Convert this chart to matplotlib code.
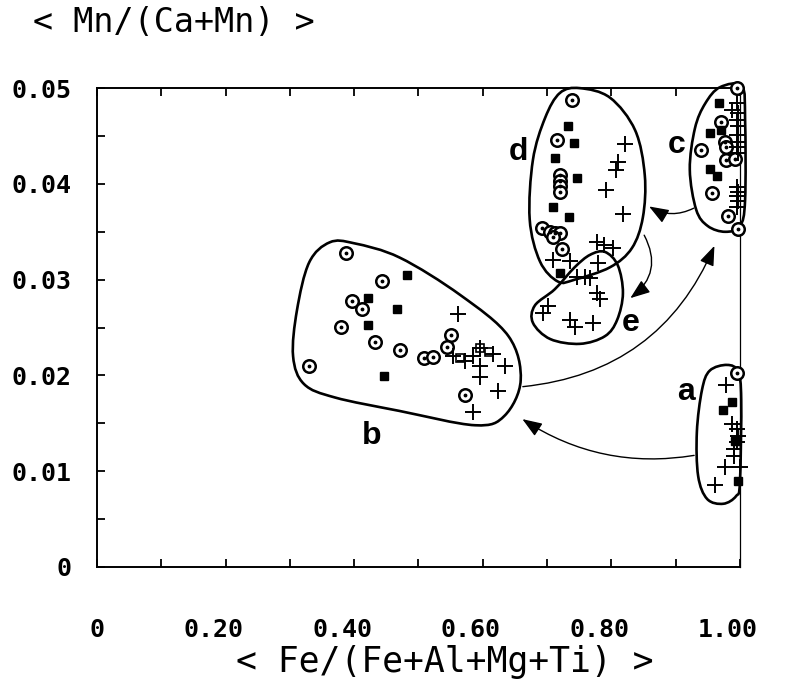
import numpy as np
import matplotlib.pyplot as plt
from matplotlib.path import Path
from matplotlib.patches import PathPatch, FancyArrowPatch
from matplotlib.transforms import ScaledTranslation

# ---- data ----
circ_x = [0.388, 0.443, 0.396, 0.412, 0.379, 0.432, 0.471, 0.329, 0.508, 0.523, 0.550, 0.545, 0.572,
          0.739, 0.716, 0.720, 0.720, 0.720, 0.720, 0.692, 0.705, 0.712, 0.720, 0.710, 0.723,
          0.995, 0.971, 0.977, 0.979, 0.940, 0.979, 0.992, 0.956, 0.982, 0.997,
          0.995]
circ_y = [0.0328, 0.0299, 0.0278, 0.0269, 0.0251, 0.0235, 0.0227, 0.0210, 0.0218, 0.0219, 0.0242, 0.0230, 0.0180,
          0.0488, 0.0446, 0.0409, 0.0403, 0.0398, 0.0392, 0.0354, 0.0350, 0.0349, 0.0349, 0.0345, 0.0332,
          0.0500, 0.0465, 0.0444, 0.0439, 0.0435, 0.0425, 0.0426, 0.0390, 0.0366, 0.0353,
          0.0203]

sq_x = [0.482, 0.422, 0.466, 0.422, 0.446,
        0.733, 0.742, 0.712, 0.746, 0.710, 0.734, 0.720,
        0.968, 0.953, 0.971, 0.953, 0.964,
        0.987, 0.974, 0.997, 0.992]
sq_y = [0.0305, 0.0281, 0.0269, 0.0253, 0.0199,
        0.0460, 0.0443, 0.0427, 0.0406, 0.0376, 0.0365, 0.0307,
        0.0485, 0.0453, 0.0456, 0.0416, 0.0408,
        0.0172, 0.0164, 0.0090, 0.0132]

osq_x = [0.565, 0.595, 0.609]
osq_y = [0.0218, 0.0229, 0.0224]

plus_x = [0.562, 0.596, 0.585, 0.616, 0.596, 0.634, 0.596, 0.624, 0.585, 0.554, 0.572,
          0.821, 0.811, 0.808, 0.792, 0.818, 0.777, 0.788, 0.803, 0.710, 0.736, 0.780,
          0.759, 0.767, 0.746, 0.777, 0.782, 0.702, 0.694, 0.736, 0.743, 0.772,
          0.995, 0.997, 0.995, 0.997, 0.995, 0.997, 0.995, 0.997, 0.987,
          0.995, 0.997, 0.995, 0.997, 0.995,
          0.979, 0.987, 0.995, 0.997, 0.995, 0.990, 0.990, 0.977, 1.000, 0.961]
plus_y = [0.0264, 0.0229, 0.0220, 0.0222, 0.0210, 0.0210, 0.0198, 0.0184, 0.0162, 0.0220, 0.0215,
          0.0442, 0.0423, 0.0415, 0.0394, 0.0369, 0.0339, 0.0336, 0.0333, 0.0321, 0.0319, 0.0317,
          0.0303, 0.0302, 0.0303, 0.0286, 0.0280, 0.0272, 0.0265, 0.0258, 0.0251, 0.0255,
          0.0484, 0.0474, 0.0467, 0.0460, 0.0451, 0.0444, 0.0439, 0.0432, 0.0477,
          0.0397, 0.0392, 0.0387, 0.0382, 0.0376,
          0.0190, 0.0149, 0.0144, 0.0137, 0.0130, 0.0123, 0.0116, 0.0104, 0.0104, 0.0086]

# group outlines (vertices, smoothed into closed curves)
env_a = [(0.980, 0.0211), (0.997, 0.0204), (1.002, 0.0175), (1.000, 0.0089), (0.994, 0.0074),
         (0.974, 0.0066), (0.949, 0.0071), (0.935, 0.0095), (0.933, 0.0141), (0.941, 0.0185), (0.953, 0.0205)]
env_b = [(0.311, 0.0268), (0.330, 0.0318), (0.362, 0.0339), (0.400, 0.0338), (0.471, 0.0323), (0.565, 0.0284),
         (0.640, 0.0241), (0.659, 0.0195), (0.634, 0.0158), (0.588, 0.0148), (0.470, 0.0163), (0.370, 0.0177),
         (0.322, 0.0191), (0.305, 0.0220)]
env_c = [(0.969, 0.0501), (1.003, 0.0502), (1.008, 0.0467), (1.008, 0.0383), (1.000, 0.0356), (0.977, 0.0350),
         (0.950, 0.0356), (0.932, 0.0373), (0.922, 0.0415), (0.930, 0.0458), (0.946, 0.0484)]
env_d = [(0.720, 0.0495), (0.751, 0.0500), (0.798, 0.0490), (0.837, 0.0456), (0.852, 0.0409), (0.849, 0.0365),
         (0.832, 0.0333), (0.798, 0.0313), (0.743, 0.0300), (0.717, 0.0298), (0.689, 0.0319), (0.673, 0.0363),
         (0.678, 0.0425), (0.697, 0.0469)]
env_e = [(0.767, 0.0326), (0.790, 0.0329), (0.810, 0.0315), (0.818, 0.0286), (0.809, 0.0258), (0.790, 0.0241),
         (0.751, 0.0233), (0.705, 0.0238), (0.678, 0.0255), (0.681, 0.0273), (0.712, 0.0290), (0.743, 0.0313)]

group_labels = ['a', 'b', 'c', 'd', 'e']
label_x = [0.916, 0.428, 0.902, 0.656, 0.830]
label_y = [0.0183, 0.0137, 0.0441, 0.0433, 0.0255]

# arrows: (start, end, curvature)
arrows = [((0.933, 0.0117), (0.658, 0.0156), -0.2),
          ((0.658, 0.0188), (0.962, 0.0338), 0.3),
          ((0.932, 0.0376), (0.855, 0.0378), -0.3),
          ((0.849, 0.0349), (0.826, 0.0279), -0.45)]

xticks = [0, 0.2, 0.4, 0.6, 0.8, 1.0]
xtick_labels = ['0', '0.20', '0.40', '0.60', '0.80', '1.00']
yticks = [0, 0.01, 0.02, 0.03, 0.04, 0.05]
ytick_labels = ['0', '0.01', '0.02', '0.03', '0.04', '0.05']


def closed_curve(pts):
    """smooth closed outline through the vertices (Catmull-Rom as cubic Bezier)"""
    p = np.array(pts)
    n = len(p)
    verts = [p[0]]
    codes = [Path.MOVETO]
    for i in range(n):
        p0, p1, p2, p3 = p[i - 1], p[i], p[(i + 1) % n], p[(i + 2) % n]
        verts += [p1 + (p2 - p0) / 6.0, p2 - (p3 - p1) / 6.0, p2]
        codes += [Path.CURVE4] * 3
    return Path(verts, codes)


fig = plt.figure(figsize=(7.86, 6.87), dpi=100)
ax = fig.add_axes([0.1234, 0.1747, 0.818, 0.697])
ax.set_xlim(0, 1.0)
ax.set_ylim(0, 0.05)

mono = 'DejaVu Sans Mono'

# points
ax.plot(circ_x, circ_y, 'o', ms=9, mfc='white', mec='black', mew=1.8, clip_on=False, zorder=3)
ax.plot(circ_x, circ_y, '.', ms=3.5, color='black', clip_on=False, zorder=4)
ax.plot(sq_x, sq_y, 's', ms=6, color='black', clip_on=False, zorder=3)
ax.plot(osq_x, osq_y, 's', ms=6, mfc='none', mec='black', mew=1.2, zorder=3)
ax.plot(plus_x, plus_y, '+', ms=12, mew=1.4, color='black', clip_on=False, zorder=3)

# outlines
for env in [env_a, env_b, env_c, env_d, env_e]:
    ax.add_patch(PathPatch(closed_curve(env), fill=False, lw=1.9, ec='black', clip_on=False, zorder=2))

for (p0, p1, rad) in arrows:
    ax.add_patch(FancyArrowPatch(p0, p1, connectionstyle='arc3,rad=%s' % rad,
                                 arrowstyle='-|>,head_length=0.8,head_width=0.3',
                                 mutation_scale=15, lw=1.0, color='black', clip_on=False))

for lab, lx, ly in zip(group_labels, label_x, label_y):
    ax.text(lx, ly, lab, fontsize=23, fontweight='bold', family='Liberation Sans',
            ha='center', va='center')

# axes / ticks
ax.set_xticks(xticks)
ax.set_xticklabels(xtick_labels, fontsize=18, family=mono, fontweight='bold')
ax.set_xticks(np.arange(0.1, 1.0, 0.2), minor=True)
ax.set_yticks(yticks)
ax.set_yticklabels(ytick_labels, fontsize=18, family=mono, fontweight='bold')
ax.set_yticks(np.arange(0.005, 0.05, 0.01), minor=True)
ax.tick_params(which='both', direction='in', length=6, width=1.3, top=True, right=False)
ax.tick_params(axis='x', which='major', pad=37)
ax.tick_params(axis='y', which='major', pad=18)
for i, t in enumerate(ax.get_xticklabels()):
    if i > 0:
        t.set_transform(t.get_transform() + ScaledTranslation(-0.12, 0, fig.dpi_scale_trans))

for side in ['left', 'bottom', 'top']:
    ax.spines[side].set_linewidth(1.4)
ax.spines['right'].set_linewidth(0.9)

fig.text(33 / 786, 1 - 22 / 687, '< Mn/(Ca+Mn) >', fontsize=24, family=mono, ha='left', va='center')
fig.text(445 / 786, 1 - 662 / 687, '< Fe/(Fe+Al+Mg+Ti) >', fontsize=25, family=mono, ha='center', va='center')

fig.savefig('out.png', dpi=100)
